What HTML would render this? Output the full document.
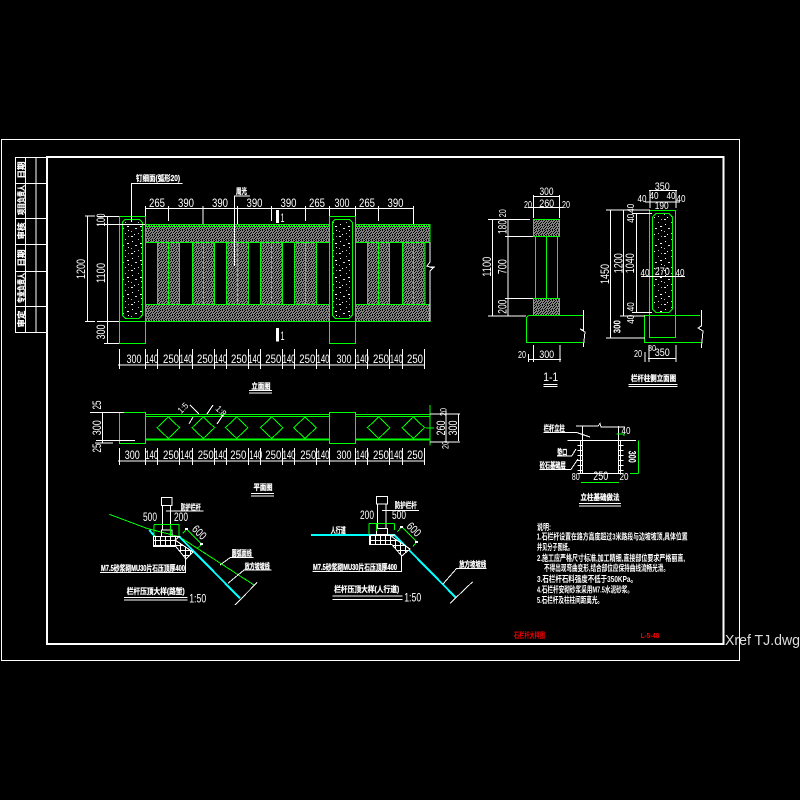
<!DOCTYPE html>
<html><head><meta charset="utf-8">
<style>
html,body{margin:0;padding:0;background:#000;width:800px;height:800px;overflow:hidden}
svg{display:block}
path,rect{shape-rendering:crispEdges}
text{fill:#fff;font-family:"Liberation Sans","Noto Sans CJK SC",sans-serif;font-size:11.5px;text-anchor:middle}
.c{font-size:8px;font-weight:bold;stroke:#fff;stroke-width:.25}
.n{font-size:8.5px;font-weight:bold;text-anchor:start}
.w{stroke:#fff;stroke-width:1;fill:none}
.g{stroke:#0f0;stroke-width:1;fill:none}
.b{stroke:#0ff;stroke-width:2;fill:none}
</style></head><body>
<svg width="800" height="800" viewBox="0 0 800 800" xmlns="http://www.w3.org/2000/svg">
<defs>
<pattern id="h" width="5" height="5" patternUnits="userSpaceOnUse"><rect width="5" height="5" fill="#808080"/><rect x="0" y="0" width="1" height="1" fill="#000"/><rect x="2" y="0" width="1" height="1" fill="#000"/><rect x="4" y="1" width="1" height="1" fill="#000"/><rect x="1" y="2" width="1" height="1" fill="#000"/><rect x="3" y="2" width="1" height="1" fill="#000"/><rect x="0" y="3" width="1" height="1" fill="#000"/><rect x="2" y="4" width="1" height="1" fill="#000"/><rect x="4" y="4" width="1" height="1" fill="#000"/></pattern>
<pattern id="s" width="13" height="17" patternUnits="userSpaceOnUse"><rect x="2" y="3" width="1" height="1" fill="#fff"/><rect x="8" y="1" width="1" height="1" fill="#bbb"/><rect x="10" y="5" width="2" height="1" fill="#fff"/><rect x="5" y="7" width="2" height="1" fill="#ddd"/><rect x="11" y="9" width="1" height="1" fill="#fff"/><rect x="1" y="10" width="1" height="1" fill="#bbb"/><rect x="8" y="12" width="1" height="1" fill="#ccc"/><rect x="4" y="13" width="1" height="1" fill="#fff"/><rect x="1" y="15" width="2" height="1" fill="#eee"/><rect x="11" y="15" width="1" height="1" fill="#aaa"/></pattern>
<pattern id="k" width="5" height="5" patternUnits="userSpaceOnUse"><rect width="5" height="5" fill="#000"/><rect width="5" height="1" fill="#fff"/><rect width="1" height="5" fill="#fff"/></pattern>
</defs>
<rect width="800" height="800" fill="#000"/>

<!-- frames -->
<rect x="1.5" y="139.5" width="738" height="521" class="w"/>
<rect x="47" y="157" width="676.5" height="487" fill="none" stroke="#fff" stroke-width="2"/>
<path class="w" d="M47 157.5H15.5V332.5H47M25.5 157.5V332.5M36 157.5V332.5M15.5 183.5H47M15.5 218.5H47M15.5 244.5H47M15.5 271.5H47M15.5 306.5H47"/>
<text class="c" x="24" y="170" transform="rotate(-90 24 170)" textLength="17" lengthAdjust="spacingAndGlyphs">日期</text>
<text class="c" x="24" y="200" transform="rotate(-90 24 200)" textLength="30" lengthAdjust="spacingAndGlyphs">项目负责人</text>
<text class="c" x="24" y="231" transform="rotate(-90 24 231)" textLength="17" lengthAdjust="spacingAndGlyphs">审核</text>
<text class="c" x="24" y="258" transform="rotate(-90 24 258)" textLength="17" lengthAdjust="spacingAndGlyphs">日期</text>
<text class="c" x="24" y="288" transform="rotate(-90 24 288)" textLength="30" lengthAdjust="spacingAndGlyphs">专业负责人</text>
<text class="c" x="24" y="319" transform="rotate(-90 24 319)" textLength="17" lengthAdjust="spacingAndGlyphs">审定</text>

<!-- FRONT ELEVATION -->
<g stroke="#0f0" stroke-width="1">
<rect x="145.7" y="224.3" width="183.6" height="18" fill="url(#h)"/>
<rect x="355.7" y="224.3" width="74.3" height="18" fill="url(#h)"/>
<rect x="145.7" y="304.3" width="183.6" height="17.4" fill="url(#h)"/>
<rect x="355.7" y="304.3" width="74.3" height="17.4" fill="url(#h)"/>
<rect x="157.3" y="242.3" width="22.4" height="62" fill="url(#h)"/>
<rect x="192.3" y="242.3" width="22.4" height="62" fill="url(#h)"/>
<rect x="226.3" y="242.3" width="22.4" height="62" fill="url(#h)"/>
<rect x="260.3" y="242.3" width="22.4" height="62" fill="url(#h)"/>
<rect x="294.3" y="242.3" width="22.4" height="62" fill="url(#h)"/>
<rect x="367.3" y="242.3" width="22.4" height="62" fill="url(#h)"/>
<rect x="402.7" y="242.3" width="22.4" height="62" fill="url(#h)"/>
<path fill="none" d="M168.7 242.3V304.3M203.7 242.3V304.3M237.7 242.3V304.3M271.7 242.3V304.3M305.7 242.3V304.3M378.7 242.3V304.3M413.7 242.3V304.3M145.7 226.7H329.3M355.7 226.7H430"/>
<rect x="119.3" y="216.3" width="26.4" height="127.4" fill="#000"/>
<rect x="329.3" y="216.3" width="26.4" height="127.4" fill="#000"/>
<path fill="none" d="M119.3 321.7H145.7M329.3 321.7H355.7"/>
<path fill="url(#s)" d="M125.3 219.3H139.3L142.3 222.3V315.3L139.3 318.3H125.3L122.3 315.3V222.3Z"/>
<path fill="url(#s)" d="M335.3 219.3H349.3L352.3 222.3V315.3L349.3 318.3H335.3L332.3 315.3V222.3Z"/>
</g>
<path class="w" d="M430 242V262L427 266L433 268L430 271V321M430 267H435"/>

<!-- front top dims -->
<path class="w" d="M145.7 208.3H413.7M329.3 208.3H355.7M145.7 206V216M168.7 206V221M203 206V224M237.3 206V224M271.7 206V221M305.3 206V221M329.3 206V216M355.7 206V216M378.7 206V221M413.7 206V224"/>
<text x="157" y="207" textLength="16" lengthAdjust="spacingAndGlyphs">265</text>
<text x="186" y="207" textLength="16" lengthAdjust="spacingAndGlyphs">390</text>
<text x="220" y="207" textLength="16" lengthAdjust="spacingAndGlyphs">390</text>
<text x="254.5" y="207" textLength="16" lengthAdjust="spacingAndGlyphs">390</text>
<text x="288.5" y="207" textLength="16" lengthAdjust="spacingAndGlyphs">390</text>
<text x="317" y="207" textLength="16" lengthAdjust="spacingAndGlyphs">265</text>
<text x="342" y="207" textLength="15" lengthAdjust="spacingAndGlyphs">300</text>
<text x="367" y="207" textLength="16" lengthAdjust="spacingAndGlyphs">265</text>
<text x="395.5" y="207" textLength="16" lengthAdjust="spacingAndGlyphs">390</text>
<path d="M131.7 222V183.3H182.7M234.3 266V196H250" class="w"/>
<text class="c" x="158" y="181" textLength="44" lengthAdjust="spacingAndGlyphs">钉细面(弧形20)</text>
<text class="c" x="241.5" y="194" textLength="11" lengthAdjust="spacingAndGlyphs">周光</text>
<rect x="276" y="210" width="3" height="13" fill="#fff"/><rect x="276" y="328" width="3" height="13.7" fill="#fff"/>
<text x="282.5" y="222" textLength="4" lengthAdjust="spacingAndGlyphs">1</text>
<text x="282.5" y="340" textLength="4" lengthAdjust="spacingAndGlyphs">1</text>

<!-- front left dims -->
<path class="w" d="M107.3 216.3V343.7M97 216.3H119M97 224.3H145M97 321.7H119M104 343.7H119M87.3 216V321.7M85 216H95M85 321.7H95"/>
<text x="105" y="220" transform="rotate(-90 105 220)" textLength="13" lengthAdjust="spacingAndGlyphs">100</text>
<text x="105" y="273" transform="rotate(-90 105 273)" textLength="20" lengthAdjust="spacingAndGlyphs">1100</text>
<text x="105" y="332" transform="rotate(-90 105 332)" textLength="15" lengthAdjust="spacingAndGlyphs">300</text>
<text x="85" y="269" transform="rotate(-90 85 269)" textLength="20" lengthAdjust="spacingAndGlyphs">1200</text>

<!-- front bottom dims -->
<path class="w" d="M118 365H425M119.3 349V369M145.7 349V369M157.3 349V369M179.7 349V369M192.3 349V369M214.7 349V369M226.3 349V369M248.7 349V369M260.3 349V369M282.7 349V369M294.3 349V369M316.7 349V369M329.3 349V369M355.7 349V369M367.3 349V369M389.7 349V369M402.7 349V369M424.7 349V369"/>
<text x="134" y="363" textLength="15" lengthAdjust="spacingAndGlyphs">300</text>
<text x="151.7" y="363" textLength="13" lengthAdjust="spacingAndGlyphs">140</text>
<text x="171" y="363" textLength="16" lengthAdjust="spacingAndGlyphs">250</text>
<text x="186" y="363" textLength="13" lengthAdjust="spacingAndGlyphs">140</text>
<text x="205" y="363" textLength="16" lengthAdjust="spacingAndGlyphs">250</text>
<text x="220.7" y="363" textLength="13" lengthAdjust="spacingAndGlyphs">140</text>
<text x="239" y="363" textLength="16" lengthAdjust="spacingAndGlyphs">250</text>
<text x="254.7" y="363" textLength="13" lengthAdjust="spacingAndGlyphs">140</text>
<text x="273.3" y="363" textLength="16" lengthAdjust="spacingAndGlyphs">250</text>
<text x="289" y="363" textLength="13" lengthAdjust="spacingAndGlyphs">140</text>
<text x="307.3" y="363" textLength="16" lengthAdjust="spacingAndGlyphs">250</text>
<text x="323" y="363" textLength="13" lengthAdjust="spacingAndGlyphs">140</text>
<text x="344" y="363" textLength="15" lengthAdjust="spacingAndGlyphs">300</text>
<text x="362.3" y="363" textLength="13" lengthAdjust="spacingAndGlyphs">140</text>
<text x="381" y="363" textLength="16" lengthAdjust="spacingAndGlyphs">250</text>
<text x="396.3" y="363" textLength="13" lengthAdjust="spacingAndGlyphs">140</text>
<text x="415" y="363" textLength="16" lengthAdjust="spacingAndGlyphs">250</text>
<text class="c" x="261" y="389" textLength="19" lengthAdjust="spacingAndGlyphs">立面图</text>
<path class="w" d="M249 390.5H272M249 393H272"/>

<!-- PLAN -->
<g stroke="#0f0" fill="none">
<rect x="119.3" y="412.3" width="26.4" height="31"/>
<rect x="329.3" y="412.3" width="26.4" height="31"/>
<path d="M145.7 414.3H329.3M145.7 416.7H329.3M355.7 414.3H430M355.7 416.7H430M430 405V445.7"/>
<path stroke-width="2" d="M145.7 439.5H329.3M355.7 439.5H430"/>
<path d="M168.3 417L179.6 427.7L168.3 438.4L157 427.7ZM203.3 417L214.6 427.7L203.3 438.4L192 427.7ZM236.7 417L248 427.7L236.7 438.4L225.4 427.7ZM271.7 417L283 427.7L271.7 438.4L260.4 427.7ZM305 417L316.3 427.7L305 438.4L293.7 427.7ZM378.7 417L390 427.7L378.7 438.4L367.4 427.7ZM413.3 417L424.6 427.7L413.3 438.4L402 427.7Z"/>
<path d="M426 428H434"/>
</g>
<path class="w" d="M90 412.5H124M102.3 412V443M96 440.5H135M95 443H113M118 461H425M119.3 448V465M145.7 448V465M157.3 448V465M179.7 448V465M192.3 448V465M214.7 448V465M226.3 448V465M248.7 448V465M260.3 448V465M282.7 448V465M294.3 448V465M316.7 448V465M329.3 448V465M355.7 448V465M367.3 448V465M389.7 448V465M402.7 448V465M424.7 448V465M430 414H460M446 411V443M458.3 414V441M430 442H460M190 405L199 414M193 417L189 424M213 405L207 414M223 415L217 424"/>
<text x="101" y="405" transform="rotate(-90 101 405)" textLength="9" lengthAdjust="spacingAndGlyphs">25</text>
<text x="101" y="427.7" transform="rotate(-90 101 427.7)" textLength="15" lengthAdjust="spacingAndGlyphs">300</text>
<text x="101" y="448" transform="rotate(-90 101 448)" textLength="9" lengthAdjust="spacingAndGlyphs">25</text>
<text x="446.5" y="412" transform="rotate(-90 446.5 412)" textLength="8" lengthAdjust="spacingAndGlyphs" style="font-size:9px">20</text>
<text x="445" y="428" transform="rotate(-90 445 428)" textLength="15" lengthAdjust="spacingAndGlyphs">260</text>
<text x="448.5" y="445" transform="rotate(-90 448.5 445)" textLength="8" lengthAdjust="spacingAndGlyphs" style="font-size:9px">20</text>
<text x="457" y="428" transform="rotate(-90 457 428)" textLength="15" lengthAdjust="spacingAndGlyphs">300</text>
<text x="183" y="411" transform="rotate(-45 183 408)" textLength="11" lengthAdjust="spacingAndGlyphs" style="font-size:9px">1:5</text>
<text x="221" y="414" transform="rotate(45 221 411)" textLength="11" lengthAdjust="spacingAndGlyphs" style="font-size:9px">1:8</text>
<text x="132.3" y="459" textLength="15" lengthAdjust="spacingAndGlyphs">300</text>
<text x="151.7" y="459" textLength="13" lengthAdjust="spacingAndGlyphs">140</text>
<text x="171" y="459" textLength="16" lengthAdjust="spacingAndGlyphs">250</text>
<text x="186.7" y="459" textLength="13" lengthAdjust="spacingAndGlyphs">140</text>
<text x="205.7" y="459" textLength="16" lengthAdjust="spacingAndGlyphs">250</text>
<text x="220.7" y="459" textLength="13" lengthAdjust="spacingAndGlyphs">140</text>
<text x="238.3" y="459" textLength="16" lengthAdjust="spacingAndGlyphs">250</text>
<text x="255.7" y="459" textLength="13" lengthAdjust="spacingAndGlyphs">140</text>
<text x="273.3" y="459" textLength="16" lengthAdjust="spacingAndGlyphs">250</text>
<text x="289" y="459" textLength="13" lengthAdjust="spacingAndGlyphs">140</text>
<text x="308.3" y="459" textLength="16" lengthAdjust="spacingAndGlyphs">250</text>
<text x="323" y="459" textLength="13" lengthAdjust="spacingAndGlyphs">140</text>
<text x="344" y="459" textLength="15" lengthAdjust="spacingAndGlyphs">300</text>
<text x="362.3" y="459" textLength="13" lengthAdjust="spacingAndGlyphs">140</text>
<text x="381" y="459" textLength="16" lengthAdjust="spacingAndGlyphs">250</text>
<text x="396.3" y="459" textLength="13" lengthAdjust="spacingAndGlyphs">140</text>
<text x="415" y="459" textLength="16" lengthAdjust="spacingAndGlyphs">250</text>
<text class="c" x="263" y="490" textLength="19" lengthAdjust="spacingAndGlyphs">平面图</text>
<path class="w" d="M251 493.5H274M251 496H274"/>

<!-- DETAIL 1 -->
<path class="g" d="M109.3 514.3L146.7 528.3L179.3 536.7L254 585"/>
<path class="b" d="M149.3 530L155 536.7M179.3 536.7L240 598.3"/>
<path fill="url(#k)" stroke="#fff" d="M153.3 536.7H179.3L175 540L193 552L186 559L176 546.7H153.3Z"/>
<path class="w" stroke-width="1.5" d="M161.3 497.7H172V505.7H161.3ZM162.7 505.7V530M170.7 505.7V530M161.3 530H172V536.7H161.3Z"/>
<path class="w" d="M166 511H203.3M230 557.7H253.3M230 557.7L220 565M244 570H271.7M244 570L228 583.3M235 605L257.3 582.3M185.7 559V572.3H100"/>
<path class="g" d="M154 524.3H179M154 524.3V536M170.7 524.3V536M179 524.3V536M182.7 533.3L186.7 529L201.7 544.3L197.3 548.3"/>
<path d="M185 528h3v2h-3zM200 543h3v2h-3z" fill="#fff"/>
<text x="150" y="521" textLength="14" lengthAdjust="spacingAndGlyphs">500</text>
<text x="181" y="521" textLength="14" lengthAdjust="spacingAndGlyphs">200</text>
<text x="198.7" y="536" transform="rotate(45 198.7 533)" textLength="15" lengthAdjust="spacingAndGlyphs">600</text>
<text class="c" x="190.7" y="510" textLength="20" lengthAdjust="spacingAndGlyphs">防护栏杆</text>
<text class="c" x="241.7" y="556" textLength="20" lengthAdjust="spacingAndGlyphs">圆弧面线</text>
<text class="c" x="257.3" y="569" textLength="25" lengthAdjust="spacingAndGlyphs">放方坡坡线</text>
<text class="c" x="143" y="571" textLength="84" lengthAdjust="spacingAndGlyphs">M7.5砂浆砌MU30片石压顶厚400</text>
<text class="c" x="155.7" y="594" textLength="58" lengthAdjust="spacingAndGlyphs">栏杆压顶大样(路堑)</text>
<path class="w" d="M124 597.3H187.3M124 600H187.3"/>
<text x="197.7" y="602.5" textLength="17" lengthAdjust="spacingAndGlyphs">1:50</text>

<!-- DETAIL 2 -->
<path class="b" d="M311 535H394.3L456 597.7"/>
<path fill="url(#k)" stroke="#fff" d="M369.3 535H394.3L391.7 536.7L410 549L401.7 556L391.7 544.3H369.3Z"/>
<path class="w" stroke-width="1.5" d="M376.3 496.7H387.3V504H376.3ZM377.3 504V528.3M386 504V528.3M376.3 528.3H387.3V534.3H376.3Z"/>
<path class="w" d="M382 510.3H419M456.7 568.3H486.7M456.7 568.3L443 584M450 603.3L472.7 581.7M401.7 556V571.3H312.3"/>
<path class="g" d="M369 523.3H394.3M369 523.3V534.3M376.7 523.3V531M394.3 523.3V530M397.3 531.7L401.7 526.7L416.7 541.7L412.7 546.7"/>
<path d="M400 526h3v2h-3zM415 541h3v2h-3z" fill="#fff"/>
<text x="367" y="519" textLength="14" lengthAdjust="spacingAndGlyphs">200</text>
<text x="399" y="519" textLength="14" lengthAdjust="spacingAndGlyphs">500</text>
<text x="413.3" y="533" transform="rotate(45 413.3 530)" textLength="15" lengthAdjust="spacingAndGlyphs">600</text>
<text class="c" x="405.7" y="508" textLength="22" lengthAdjust="spacingAndGlyphs">防护栏杆</text>
<text class="c" x="338.3" y="533" textLength="15" lengthAdjust="spacingAndGlyphs">人行道</text>
<text class="c" x="355" y="570" textLength="84" lengthAdjust="spacingAndGlyphs">M7.5砂浆砌MU30片石压顶厚400</text>
<text class="c" x="472.7" y="567" textLength="27" lengthAdjust="spacingAndGlyphs">放方坡坡线</text>
<text class="c" x="366.7" y="592" textLength="65" lengthAdjust="spacingAndGlyphs">栏杆压顶大样(人行道)</text>
<path class="w" d="M332.3 596H402.7M332.3 599.3H402.7"/>
<text x="412.7" y="601.5" textLength="17" lengthAdjust="spacingAndGlyphs">1:50</text>

<!-- SECTION 1-1 -->
<g stroke="#0f0" fill="none">
<rect x="533.3" y="219.3" width="26" height="17" fill="url(#h)"/>
<rect x="533.3" y="298.3" width="26" height="17" fill="url(#h)"/>
<path d="M535.3 236.3V298.3M557.7 236.3V298.3M546.3 236.3V298.3M583.3 315.3H529L526.3 317.5V342.3H583.3"/>
</g>
<path class="w" d="M583.3 310V330L580 329L585 332L583.3 347M492.3 219.3V316M488 219.3H530M488 316H526M508 219V316M505 236.3H533M505 298.3H533M533.3 195V218M559.7 195V218M533.3 196.7H560M528 207.3H563M528 359.3H561M528.3 354V362M533.3 345V362M560 345V362"/>
<text x="546.5" y="195" textLength="14" lengthAdjust="spacingAndGlyphs" style="font-size:11px">300</text>
<text x="546.7" y="207" textLength="15" lengthAdjust="spacingAndGlyphs" style="font-size:11px">260</text>
<text x="528" y="208" textLength="8" lengthAdjust="spacingAndGlyphs" style="font-size:10px">20</text>
<text x="566" y="208" textLength="8" lengthAdjust="spacingAndGlyphs" style="font-size:10px">20</text>
<text x="546.7" y="358" textLength="15" lengthAdjust="spacingAndGlyphs" style="font-size:11px">300</text>
<text x="522" y="358" textLength="8" lengthAdjust="spacingAndGlyphs" style="font-size:10px">20</text>
<text x="491" y="266.7" transform="rotate(-90 491 266.7)" textLength="20" lengthAdjust="spacingAndGlyphs">1100</text>
<text x="506.5" y="227" transform="rotate(-90 506.5 227)" textLength="14" lengthAdjust="spacingAndGlyphs">180</text>
<text x="506" y="213.3" transform="rotate(-90 506 213.3)" textLength="8" lengthAdjust="spacingAndGlyphs" style="font-size:10px">20</text>
<text x="506.5" y="266.7" transform="rotate(-90 506.5 266.7)" textLength="15" lengthAdjust="spacingAndGlyphs">700</text>
<text x="506.5" y="306.7" transform="rotate(-90 506.5 306.7)" textLength="14" lengthAdjust="spacingAndGlyphs">200</text>
<text x="550.7" y="381" textLength="15" lengthAdjust="spacingAndGlyphs" style="font-size:12px">1-1</text>
<path class="w" d="M543.3 384.3H557.7M543.3 386.7H557.7"/>

<!-- SIDE ELEVATION -->
<g stroke="#0f0" fill="none">
<rect x="649.3" y="210.3" width="26.4" height="127.4"/>
<path fill="url(#s)" d="M656 213.3H669L672.7 217V309L669 312.7H656L652.3 309V217Z"/>
<path d="M700 315.3H644.3V342.3H701.3"/>
</g>
<path class="w" d="M701.3 310V326L698 328L703 331L701.3 348M610.7 210V338M606 210H650M623.3 210V316M620 316H645M636.7 213.3V312.7M632 213.3H652M632 312.7H652M606 338H645M650 191V208M676 191V208M649 190.7H677M645 202H680M651 276.7H675M641 276.7H685M648 358.3H676M645 352V362M649 345V362M676 345V362"/>
<text x="662.3" y="190" textLength="15" lengthAdjust="spacingAndGlyphs" style="font-size:11px">350</text>
<text x="642" y="202" textLength="9" lengthAdjust="spacingAndGlyphs" style="font-size:10px">40</text>
<text x="654" y="199" textLength="9" lengthAdjust="spacingAndGlyphs" style="font-size:10px">40</text>
<text x="671" y="199" textLength="9" lengthAdjust="spacingAndGlyphs" style="font-size:10px">40</text>
<text x="681" y="202" textLength="9" lengthAdjust="spacingAndGlyphs" style="font-size:10px">40</text>
<text x="661.7" y="209" textLength="14" lengthAdjust="spacingAndGlyphs" style="font-size:10px">190</text>
<text x="609" y="274" transform="rotate(-90 609 274)" textLength="20" lengthAdjust="spacingAndGlyphs">1450</text>
<text x="622.3" y="263.3" transform="rotate(-90 622.3 263.3)" textLength="20" lengthAdjust="spacingAndGlyphs">1200</text>
<text x="634" y="263.3" transform="rotate(-90 634 263.3)" textLength="20" lengthAdjust="spacingAndGlyphs">1040</text>
<text x="634" y="218.3" transform="rotate(-90 634 218.3)" textLength="9" lengthAdjust="spacingAndGlyphs" style="font-size:10px">40</text>
<text x="634" y="208.3" transform="rotate(-90 634 208.3)" textLength="9" lengthAdjust="spacingAndGlyphs" style="font-size:10px">40</text>
<text x="634" y="306.7" transform="rotate(-90 634 306.7)" textLength="9" lengthAdjust="spacingAndGlyphs" style="font-size:10px">40</text>
<text x="634" y="319.3" transform="rotate(-90 634 319.3)" textLength="9" lengthAdjust="spacingAndGlyphs" style="font-size:10px">40</text>
<text x="620.7" y="326.7" transform="rotate(-90 620.7 326.7)" textLength="13" lengthAdjust="spacingAndGlyphs" style="font-weight:bold;font-size:10px">300</text>
<text x="645" y="276" textLength="9" lengthAdjust="spacingAndGlyphs" style="font-size:10px">40</text>
<text x="662.3" y="275" textLength="15" lengthAdjust="spacingAndGlyphs" style="font-size:11px">270</text>
<text x="680" y="276" textLength="9" lengthAdjust="spacingAndGlyphs" style="font-size:10px">40</text>
<text x="638" y="357" textLength="8" lengthAdjust="spacingAndGlyphs" style="font-size:10px">20</text>
<text x="652" y="351" textLength="8" lengthAdjust="spacingAndGlyphs" style="font-size:8px">80</text>
<text x="662.3" y="356" textLength="15" lengthAdjust="spacingAndGlyphs" style="font-size:11px">350</text>
<text class="c" x="653.5" y="381" textLength="45" lengthAdjust="spacingAndGlyphs">栏杆柱侧立面图</text>
<path class="w" d="M628.3 384.3H677.7M628.3 386.7H677.7"/>

<!-- FOUNDATION -->
<rect x="577.5" y="440.3" width="5" height="33" fill="url(#k)"/>
<rect x="618.5" y="440.3" width="5" height="33" fill="url(#k)"/>
<path class="w" d="M576 426H598L600 423.5L601 427H625M567.3 440.3H636M582.3 426V473.3M618.3 426V473.3M578 473.3H623.3M543.3 432.3H576L590 437M557 456H571.7L576 449M539.3 469.3H571L578 459"/>
<path class="g" d="M581 482.3H619M638.7 440.3V473.3M630 473.3H638.7M616.5 434H624V436"/>
<text x="600.7" y="480" textLength="15" lengthAdjust="spacingAndGlyphs">250</text>
<text x="626" y="434" textLength="9" lengthAdjust="spacingAndGlyphs" style="font-size:10px">40</text>
<text x="575.7" y="480" textLength="8" lengthAdjust="spacingAndGlyphs" style="font-size:10px">80</text>
<text x="624" y="480" textLength="9" lengthAdjust="spacingAndGlyphs" style="font-size:10px">20</text>
<text x="628.5" y="456.7" transform="rotate(90 628.5 456.7)" textLength="12" lengthAdjust="spacingAndGlyphs" style="font-weight:bold;font-size:11px">300</text>
<text class="c" x="554.3" y="431" textLength="21" lengthAdjust="spacingAndGlyphs">栏杆立柱</text>
<text class="c" x="562.3" y="455" textLength="10" lengthAdjust="spacingAndGlyphs">垫口</text>
<text class="c" x="552.7" y="468" textLength="26" lengthAdjust="spacingAndGlyphs">砼石基础层</text>
<text class="c" x="600" y="500" textLength="39" lengthAdjust="spacingAndGlyphs">立柱基础做法</text>
<path class="w" d="M579 503.7H621M579 506H621"/>

<!-- NOTES -->
<text class="n" x="537" y="530" textLength="14" lengthAdjust="spacingAndGlyphs">说明:</text>
<text class="n" x="536.7" y="539.5" textLength="151" lengthAdjust="spacingAndGlyphs">1.石栏杆设置在路方高度超过3米路段与边坡坡顶,具体位置</text>
<text class="n" x="537" y="550" textLength="36" lengthAdjust="spacingAndGlyphs">并见分子图纸。</text>
<text class="n" x="537" y="561" textLength="148" lengthAdjust="spacingAndGlyphs">2.施工应严格尺寸标准,加工精细,直接部位要求严格丽直,</text>
<text class="n" x="544" y="571" textLength="125" lengthAdjust="spacingAndGlyphs">不得出现弯曲变形,结合部位应保持曲线流畅光滑。</text>
<text class="n" x="537" y="582" textLength="100" lengthAdjust="spacingAndGlyphs">3.石栏杆石料强度不低于350KPa。</text>
<text class="n" x="537" y="592.5" textLength="96" lengthAdjust="spacingAndGlyphs">4.石栏杆安砌砂浆采用M7.5水泥砂浆。</text>
<text class="n" x="537" y="603" textLength="66" lengthAdjust="spacingAndGlyphs">5.石栏杆及柱柱间距离光。</text>
<text class="n" x="514" y="638" textLength="31" lengthAdjust="spacingAndGlyphs" style="fill:#f00;font-size:8px">石栏杆大样图</text>
<text class="n" x="640.7" y="638" textLength="18.5" lengthAdjust="spacingAndGlyphs" style="fill:#f00;font-size:7px">L-5-48</text>
<text x="725" y="645" textLength="75" lengthAdjust="spacingAndGlyphs" style="text-anchor:start;font-size:15px;fill:#ddd">Xref TJ.dwg</text>
</svg>
</body></html>
